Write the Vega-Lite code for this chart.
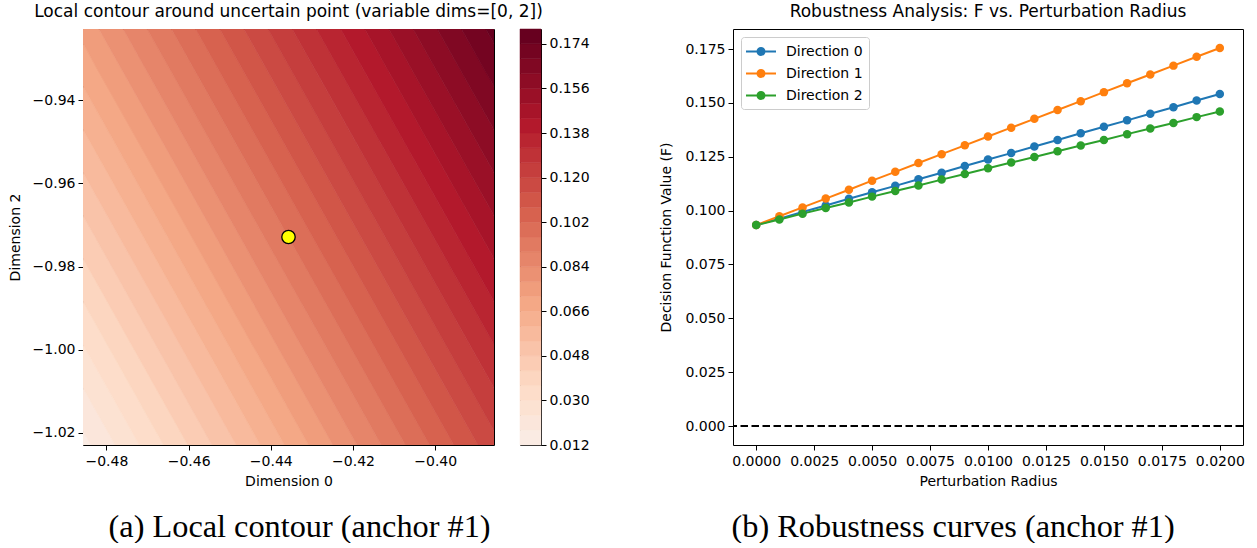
{
  "$schema": "https://vega.github.io/schema/vega-lite/v6.json",
  "padding": {"left": 7, "top": 2, "right": 5, "bottom": 0},
  "background": "white",
  "datasets": {
    "poly": [
      {"b":0,"m":0.015,"x":-0.4857,"y":-1.0229,"y2":-1.01945},
      {"b":0,"m":0.015,"x":-0.48374,"y":-1.0229,"y2":-1.0229},
      {"b":1,"m":0.021,"x":-0.4857,"y":-1.01945,"y2":-1.00911},
      {"b":1,"m":0.021,"x":-0.48374,"y":-1.0229,"y2":-1.01256},
      {"b":1,"m":0.021,"x":-0.47786,"y":-1.0229,"y2":-1.0229},
      {"b":2,"m":0.027,"x":-0.4857,"y":-1.00911,"y2":-0.99876},
      {"b":2,"m":0.027,"x":-0.47786,"y":-1.0229,"y2":-1.01256},
      {"b":2,"m":0.027,"x":-0.47197,"y":-1.0229,"y2":-1.0229},
      {"b":3,"m":0.033,"x":-0.4857,"y":-0.99876,"y2":-0.98842},
      {"b":3,"m":0.033,"x":-0.47197,"y":-1.0229,"y2":-1.01256},
      {"b":3,"m":0.033,"x":-0.46609,"y":-1.0229,"y2":-1.0229},
      {"b":4,"m":0.039,"x":-0.4857,"y":-0.98842,"y2":-0.97807},
      {"b":4,"m":0.039,"x":-0.46609,"y":-1.0229,"y2":-1.01256},
      {"b":4,"m":0.039,"x":-0.46021,"y":-1.0229,"y2":-1.0229},
      {"b":5,"m":0.045,"x":-0.4857,"y":-0.97807,"y2":-0.96773},
      {"b":5,"m":0.045,"x":-0.46021,"y":-1.0229,"y2":-1.01256},
      {"b":5,"m":0.045,"x":-0.45433,"y":-1.0229,"y2":-1.0229},
      {"b":6,"m":0.051,"x":-0.4857,"y":-0.96773,"y2":-0.95738},
      {"b":6,"m":0.051,"x":-0.45433,"y":-1.0229,"y2":-1.01256},
      {"b":6,"m":0.051,"x":-0.44845,"y":-1.0229,"y2":-1.0229},
      {"b":7,"m":0.057,"x":-0.4857,"y":-0.95738,"y2":-0.94704},
      {"b":7,"m":0.057,"x":-0.44845,"y":-1.0229,"y2":-1.01256},
      {"b":7,"m":0.057,"x":-0.44256,"y":-1.0229,"y2":-1.0229},
      {"b":8,"m":0.063,"x":-0.4857,"y":-0.94704,"y2":-0.93669},
      {"b":8,"m":0.063,"x":-0.44256,"y":-1.0229,"y2":-1.01256},
      {"b":8,"m":0.063,"x":-0.43668,"y":-1.0229,"y2":-1.0229},
      {"b":9,"m":0.069,"x":-0.4857,"y":-0.93669,"y2":-0.92635},
      {"b":9,"m":0.069,"x":-0.43668,"y":-1.0229,"y2":-1.01256},
      {"b":9,"m":0.069,"x":-0.4308,"y":-1.0229,"y2":-1.0229},
      {"b":10,"m":0.075,"x":-0.4857,"y":-0.92635,"y2":-0.9229},
      {"b":10,"m":0.075,"x":-0.48185,"y":-0.93324,"y2":-0.9229},
      {"b":10,"m":0.075,"x":-0.4308,"y":-1.0229,"y2":-1.01256},
      {"b":10,"m":0.075,"x":-0.42492,"y":-1.0229,"y2":-1.0229},
      {"b":11,"m":0.081,"x":-0.48185,"y":-0.9229,"y2":-0.9229},
      {"b":11,"m":0.081,"x":-0.47597,"y":-0.93324,"y2":-0.9229},
      {"b":11,"m":0.081,"x":-0.42492,"y":-1.0229,"y2":-1.01256},
      {"b":11,"m":0.081,"x":-0.41903,"y":-1.0229,"y2":-1.0229},
      {"b":12,"m":0.087,"x":-0.47597,"y":-0.9229,"y2":-0.9229},
      {"b":12,"m":0.087,"x":-0.47009,"y":-0.93324,"y2":-0.9229},
      {"b":12,"m":0.087,"x":-0.41903,"y":-1.0229,"y2":-1.01256},
      {"b":12,"m":0.087,"x":-0.41315,"y":-1.0229,"y2":-1.0229},
      {"b":13,"m":0.093,"x":-0.47009,"y":-0.9229,"y2":-0.9229},
      {"b":13,"m":0.093,"x":-0.46421,"y":-0.93324,"y2":-0.9229},
      {"b":13,"m":0.093,"x":-0.41315,"y":-1.0229,"y2":-1.01256},
      {"b":13,"m":0.093,"x":-0.40727,"y":-1.0229,"y2":-1.0229},
      {"b":14,"m":0.099,"x":-0.46421,"y":-0.9229,"y2":-0.9229},
      {"b":14,"m":0.099,"x":-0.45832,"y":-0.93324,"y2":-0.9229},
      {"b":14,"m":0.099,"x":-0.40727,"y":-1.0229,"y2":-1.01256},
      {"b":14,"m":0.099,"x":-0.40139,"y":-1.0229,"y2":-1.0229},
      {"b":15,"m":0.105,"x":-0.45832,"y":-0.9229,"y2":-0.9229},
      {"b":15,"m":0.105,"x":-0.45244,"y":-0.93324,"y2":-0.9229},
      {"b":15,"m":0.105,"x":-0.40139,"y":-1.0229,"y2":-1.01256},
      {"b":15,"m":0.105,"x":-0.3955,"y":-1.0229,"y2":-1.0229},
      {"b":16,"m":0.111,"x":-0.45244,"y":-0.9229,"y2":-0.9229},
      {"b":16,"m":0.111,"x":-0.44656,"y":-0.93324,"y2":-0.9229},
      {"b":16,"m":0.111,"x":-0.3955,"y":-1.0229,"y2":-1.01256},
      {"b":16,"m":0.111,"x":-0.38962,"y":-1.0229,"y2":-1.0229},
      {"b":17,"m":0.117,"x":-0.44656,"y":-0.9229,"y2":-0.9229},
      {"b":17,"m":0.117,"x":-0.44068,"y":-0.93324,"y2":-0.9229},
      {"b":17,"m":0.117,"x":-0.38962,"y":-1.0229,"y2":-1.01256},
      {"b":17,"m":0.117,"x":-0.3857,"y":-1.0229,"y2":-1.01945},
      {"b":18,"m":0.123,"x":-0.44068,"y":-0.9229,"y2":-0.9229},
      {"b":18,"m":0.123,"x":-0.4348,"y":-0.93324,"y2":-0.9229},
      {"b":18,"m":0.123,"x":-0.3857,"y":-1.01945,"y2":-1.00911},
      {"b":19,"m":0.129,"x":-0.4348,"y":-0.9229,"y2":-0.9229},
      {"b":19,"m":0.129,"x":-0.42891,"y":-0.93324,"y2":-0.9229},
      {"b":19,"m":0.129,"x":-0.3857,"y":-1.00911,"y2":-0.99876},
      {"b":20,"m":0.135,"x":-0.42891,"y":-0.9229,"y2":-0.9229},
      {"b":20,"m":0.135,"x":-0.42303,"y":-0.93324,"y2":-0.9229},
      {"b":20,"m":0.135,"x":-0.3857,"y":-0.99876,"y2":-0.98842},
      {"b":21,"m":0.141,"x":-0.42303,"y":-0.9229,"y2":-0.9229},
      {"b":21,"m":0.141,"x":-0.41715,"y":-0.93324,"y2":-0.9229},
      {"b":21,"m":0.141,"x":-0.3857,"y":-0.98842,"y2":-0.97807},
      {"b":22,"m":0.147,"x":-0.41715,"y":-0.9229,"y2":-0.9229},
      {"b":22,"m":0.147,"x":-0.41127,"y":-0.93324,"y2":-0.9229},
      {"b":22,"m":0.147,"x":-0.3857,"y":-0.97807,"y2":-0.96773},
      {"b":23,"m":0.153,"x":-0.41127,"y":-0.9229,"y2":-0.9229},
      {"b":23,"m":0.153,"x":-0.40539,"y":-0.93324,"y2":-0.9229},
      {"b":23,"m":0.153,"x":-0.3857,"y":-0.96773,"y2":-0.95738},
      {"b":24,"m":0.159,"x":-0.40539,"y":-0.9229,"y2":-0.9229},
      {"b":24,"m":0.159,"x":-0.3995,"y":-0.93324,"y2":-0.9229},
      {"b":24,"m":0.159,"x":-0.3857,"y":-0.95738,"y2":-0.94704},
      {"b":25,"m":0.165,"x":-0.3995,"y":-0.9229,"y2":-0.9229},
      {"b":25,"m":0.165,"x":-0.39362,"y":-0.93324,"y2":-0.9229},
      {"b":25,"m":0.165,"x":-0.3857,"y":-0.94704,"y2":-0.93669},
      {"b":26,"m":0.171,"x":-0.39362,"y":-0.9229,"y2":-0.9229},
      {"b":26,"m":0.171,"x":-0.38774,"y":-0.93324,"y2":-0.9229},
      {"b":26,"m":0.171,"x":-0.3857,"y":-0.93669,"y2":-0.92635},
      {"b":27,"m":0.177,"x":-0.38774,"y":-0.9229,"y2":-0.9229},
      {"b":27,"m":0.177,"x":-0.3857,"y":-0.92635,"y2":-0.9229}
    ],
    "bands": [
      {"lo":0.012,"hi":0.018,"m":0.015},{"lo":0.018,"hi":0.024,"m":0.021},
      {"lo":0.024,"hi":0.030,"m":0.027},{"lo":0.030,"hi":0.036,"m":0.033},
      {"lo":0.036,"hi":0.042,"m":0.039},{"lo":0.042,"hi":0.048,"m":0.045},
      {"lo":0.048,"hi":0.054,"m":0.051},{"lo":0.054,"hi":0.060,"m":0.057},
      {"lo":0.060,"hi":0.066,"m":0.063},{"lo":0.066,"hi":0.072,"m":0.069},
      {"lo":0.072,"hi":0.078,"m":0.075},{"lo":0.078,"hi":0.084,"m":0.081},
      {"lo":0.084,"hi":0.090,"m":0.087},{"lo":0.090,"hi":0.096,"m":0.093},
      {"lo":0.096,"hi":0.102,"m":0.099},{"lo":0.102,"hi":0.108,"m":0.105},
      {"lo":0.108,"hi":0.114,"m":0.111},{"lo":0.114,"hi":0.120,"m":0.117},
      {"lo":0.120,"hi":0.126,"m":0.123},{"lo":0.126,"hi":0.132,"m":0.129},
      {"lo":0.132,"hi":0.138,"m":0.135},{"lo":0.138,"hi":0.144,"m":0.141},
      {"lo":0.144,"hi":0.150,"m":0.147},{"lo":0.150,"hi":0.156,"m":0.153},
      {"lo":0.156,"hi":0.162,"m":0.159},{"lo":0.162,"hi":0.168,"m":0.165},
      {"lo":0.168,"hi":0.174,"m":0.171},{"lo":0.174,"hi":0.180,"m":0.177}
    ],
    "curves": [
      {"d":"Direction 0","r":0.000,"F":0.0933},{"d":"Direction 0","r":0.001,"F":0.0963},
      {"d":"Direction 0","r":0.002,"F":0.0994},{"d":"Direction 0","r":0.003,"F":0.1024},
      {"d":"Direction 0","r":0.004,"F":0.1055},{"d":"Direction 0","r":0.005,"F":0.1085},
      {"d":"Direction 0","r":0.006,"F":0.1115},{"d":"Direction 0","r":0.007,"F":0.1146},
      {"d":"Direction 0","r":0.008,"F":0.1176},{"d":"Direction 0","r":0.009,"F":0.1207},
      {"d":"Direction 0","r":0.010,"F":0.1237},{"d":"Direction 0","r":0.011,"F":0.1267},
      {"d":"Direction 0","r":0.012,"F":0.1298},{"d":"Direction 0","r":0.013,"F":0.1328},
      {"d":"Direction 0","r":0.014,"F":0.1359},{"d":"Direction 0","r":0.015,"F":0.1389},
      {"d":"Direction 0","r":0.016,"F":0.1419},{"d":"Direction 0","r":0.017,"F":0.1450},
      {"d":"Direction 0","r":0.018,"F":0.1480},{"d":"Direction 0","r":0.019,"F":0.1511},
      {"d":"Direction 0","r":0.020,"F":0.1541},
      {"d":"Direction 1","r":0.000,"F":0.0933},{"d":"Direction 1","r":0.001,"F":0.0974},
      {"d":"Direction 1","r":0.002,"F":0.1015},{"d":"Direction 1","r":0.003,"F":0.1056},
      {"d":"Direction 1","r":0.004,"F":0.1097},{"d":"Direction 1","r":0.005,"F":0.1139},
      {"d":"Direction 1","r":0.006,"F":0.1180},{"d":"Direction 1","r":0.007,"F":0.1221},
      {"d":"Direction 1","r":0.008,"F":0.1262},{"d":"Direction 1","r":0.009,"F":0.1303},
      {"d":"Direction 1","r":0.010,"F":0.1344},{"d":"Direction 1","r":0.011,"F":0.1385},
      {"d":"Direction 1","r":0.012,"F":0.1426},{"d":"Direction 1","r":0.013,"F":0.1467},
      {"d":"Direction 1","r":0.014,"F":0.1508},{"d":"Direction 1","r":0.015,"F":0.1550},
      {"d":"Direction 1","r":0.016,"F":0.1591},{"d":"Direction 1","r":0.017,"F":0.1632},
      {"d":"Direction 1","r":0.018,"F":0.1673},{"d":"Direction 1","r":0.019,"F":0.1714},
      {"d":"Direction 1","r":0.020,"F":0.1755},
      {"d":"Direction 2","r":0.000,"F":0.0933},{"d":"Direction 2","r":0.001,"F":0.0959},
      {"d":"Direction 2","r":0.002,"F":0.0986},{"d":"Direction 2","r":0.003,"F":0.1012},
      {"d":"Direction 2","r":0.004,"F":0.1038},{"d":"Direction 2","r":0.005,"F":0.1065},
      {"d":"Direction 2","r":0.006,"F":0.1091},{"d":"Direction 2","r":0.007,"F":0.1117},
      {"d":"Direction 2","r":0.008,"F":0.1144},{"d":"Direction 2","r":0.009,"F":0.1170},
      {"d":"Direction 2","r":0.010,"F":0.1197},{"d":"Direction 2","r":0.011,"F":0.1223},
      {"d":"Direction 2","r":0.012,"F":0.1249},{"d":"Direction 2","r":0.013,"F":0.1276},
      {"d":"Direction 2","r":0.014,"F":0.1302},{"d":"Direction 2","r":0.015,"F":0.1328},
      {"d":"Direction 2","r":0.016,"F":0.1355},{"d":"Direction 2","r":0.017,"F":0.1381},
      {"d":"Direction 2","r":0.018,"F":0.1407},{"d":"Direction 2","r":0.019,"F":0.1434},
      {"d":"Direction 2","r":0.020,"F":0.1460}
    ]
  },
  "spacing": 69,
  "resolve": {"scale": {"color": "independent"}, "legend": {"color": "independent"}},
  "hconcat": [
    {
      "title": {"text": "(a) Local contour (anchor #1)", "orient": "bottom", "anchor": "middle", "frame": "bounds", "font": "Liberation Serif", "fontSize": 32.3, "fontWeight": "normal", "color": "#000000", "offset": 22, "dx": 1},
      "spacing": 26,
      "bounds": "flush",
      "hconcat": [
        {
          "title": {"text": "Local contour around uncertain point (variable dims=[0, 2])", "fontSize": 17, "offset": 8},
          "width": 411,
          "height": 416,
          "layer": [
            {
              "data": {"name": "poly"},
              "mark": {"type": "area", "interpolate": "linear", "strokeWidth": 0.6, "clip": true, "opacity": 1},
              "encoding": {
                "x": {"field": "x", "type": "quantitative", "scale": {"domain": [-0.4857, -0.3857], "nice": false, "zero": false},
                      "axis": {"title": "Dimension 0", "values": [-0.48, -0.46, -0.44, -0.42, -0.40], "format": ".2f", "labelPadding": 4, "titlePadding": 6}},
                "y": {"field": "y", "type": "quantitative", "stack": null, "scale": {"domain": [-1.0229, -0.9229], "nice": false, "zero": false},
                      "axis": {"title": "Dimension 2", "values": [-1.02, -1.00, -0.98, -0.96, -0.94], "format": ".2f", "titlePadding": 10}},
                "y2": {"field": "y2"},
                "detail": {"field": "b", "type": "nominal"},
                "fill": {"field": "m", "type": "quantitative", "legend": null,
                         "scale": {"type": "linear", "domain": [0, 0.0354, 0.0708, 0.1062, 0.1416, 0.177], "range": ["#f7f7f7", "#fddbc7", "#f4a582", "#d6604d", "#b2182b", "#67001f"], "interpolate": "rgb", "clamp": true}},
                "stroke": {"field": "m", "type": "quantitative", "legend": null,
                         "scale": {"type": "linear", "domain": [0, 0.0354, 0.0708, 0.1062, 0.1416, 0.177], "range": ["#f7f7f7", "#fddbc7", "#f4a582", "#d6604d", "#b2182b", "#67001f"], "interpolate": "rgb", "clamp": true}}
              }
            },
            {
              "data": {"values": [{"x": -0.4357, "y": -0.9729}]},
              "mark": {"type": "point", "shape": "circle", "filled": true, "fill": "#ffff00", "stroke": "#000000", "strokeWidth": 1.3, "size": 180, "opacity": 1},
              "encoding": {
                "x": {"field": "x", "type": "quantitative"},
                "y": {"field": "y", "type": "quantitative"}
              }
            }
          ]
        },
        {
          "width": 21,
          "height": 416,
          "data": {"name": "bands"},
          "mark": {"type": "rect", "strokeWidth": 0.5},
          "encoding": {
            "x": {"datum": 0, "type": "quantitative", "scale": {"domain": [0, 1], "nice": false, "zero": false}, "axis": null},
            "x2": {"datum": 1},
            "y": {"field": "lo", "type": "quantitative", "scale": {"domain": [0.012, 0.18], "nice": false, "zero": false},
                  "axis": {"orient": "right", "title": null, "values": [0.012, 0.030, 0.048, 0.066, 0.084, 0.102, 0.120, 0.138, 0.156, 0.174], "format": ".3f"}},
            "y2": {"field": "hi"},
            "fill": {"field": "m", "type": "quantitative", "legend": null,
                     "scale": {"type": "linear", "domain": [0, 0.0354, 0.0708, 0.1062, 0.1416, 0.177], "range": ["#f7f7f7", "#fddbc7", "#f4a582", "#d6604d", "#b2182b", "#67001f"], "interpolate": "rgb", "clamp": true}},
            "stroke": {"field": "m", "type": "quantitative", "legend": null,
                     "scale": {"type": "linear", "domain": [0, 0.0354, 0.0708, 0.1062, 0.1416, 0.177], "range": ["#f7f7f7", "#fddbc7", "#f4a582", "#d6604d", "#b2182b", "#67001f"], "interpolate": "rgb", "clamp": true}}
          }
        }
      ]
    },
    {
      "title": {"text": "(b) Robustness curves (anchor #1)", "orient": "bottom", "anchor": "middle", "frame": "bounds", "font": "Liberation Serif", "fontSize": 32.3, "fontWeight": "normal", "color": "#000000", "offset": 22, "dx": 1},
      "resolve": {"scale": {"color": "independent"}, "legend": {"color": "independent"}},
      "vconcat": [
        {
          "title": {"text": "Robustness Analysis: F vs. Perturbation Radius", "fontSize": 17, "offset": 8},
          "width": 510,
          "height": 416,
          "layer": [
            {
              "data": {"values": [{"F": 0}]},
              "mark": {"type": "rule", "color": "#000000", "strokeWidth": 2, "strokeDash": [7.5, 3.5]},
              "encoding": {
                "y": {"field": "F", "type": "quantitative", "title": "Decision Function Value (F)"}
              }
            },
            {
              "data": {"name": "curves"},
              "mark": {"type": "line", "strokeWidth": 2, "point": {"filled": true, "size": 72, "opacity": 1}},
              "encoding": {
                "x": {"field": "r", "type": "quantitative", "scale": {"domain": [-0.001, 0.021], "nice": false, "zero": false},
                      "axis": {"title": "Perturbation Radius", "values": [0, 0.0025, 0.005, 0.0075, 0.01, 0.0125, 0.015, 0.0175, 0.02], "format": ".4f", "labelPadding": 4, "titlePadding": 6}},
                "y": {"field": "F", "type": "quantitative", "scale": {"domain": [-0.00878, 0.1843], "nice": false, "zero": false},
                      "title": "Decision Function Value (F)",
                      "axis": {"values": [0, 0.025, 0.05, 0.075, 0.1, 0.125, 0.15, 0.175], "format": ".3f", "titlePadding": 11}},
                "color": {"field": "d", "type": "nominal",
                          "scale": {"domain": ["Direction 0", "Direction 1", "Direction 2"], "range": ["#1f77b4", "#ff7f0e", "#2ca02c"]},
                          "legend": {"title": null, "orient": "top-left", "offset": 8,
                                     "symbolType": "M-1.1875,0L2.5625,0M0.8125,0A0.125,0.125 0 1 1 0.5625,0A0.125,0.125 0 1 1 0.8125,0M1,0A0.3125,0.3125 0 1 1 0.375,0A0.3125,0.3125 0 1 1 1,0M1.125,0A0.4375,0.4375 0 1 1 0.25,0A0.4375,0.4375 0 1 1 1.125,0",
                                     "symbolSize": 256, "symbolStrokeWidth": 2, "symbolOpacity": 1,
                                     "labelFontSize": 14, "labelColor": "#000000", "padding": 5.5, "rowPadding": 5, "labelOffset": 21.5,
                                     "strokeColor": "#cccccc", "fillColor": "rgba(255,255,255,0.8)", "cornerRadius": 3}}
              }
            }
          ]
        }
      ]
    }
  ],
  "config": {
    "font": "DejaVu Sans",
    "view": {"stroke": "#000000", "strokeWidth": 1},
    "axis": {"grid": false, "domain": false, "tickColor": "#000000", "tickSize": 5, "tickWidth": 1,
             "labelColor": "#000000", "titleColor": "#000000", "labelFontSize": 14, "titleFontSize": 14,
             "titleFontWeight": "normal", "labelPadding": 3, "labelFlush": false, "labelOverlap": false},
    "title": {"fontSize": 15, "fontWeight": "normal", "color": "#000000"}
  }
}
